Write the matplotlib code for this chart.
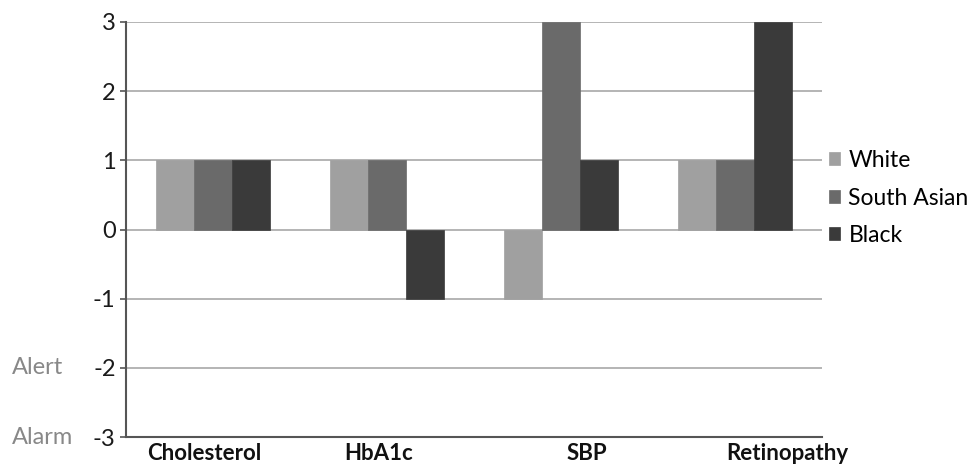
import numpy as np
import matplotlib
matplotlib.use("Agg")
import matplotlib.pyplot as plt

plt.rcParams["font.family"] = ["Lato", "DejaVu Sans"]

categories = ["Cholesterol", "HbA1c", "SBP", "Retinopathy"]
groups = ["White", "South Asian", "Black"]
white = [1, 1, -1, 1]
south_asian = [1, 1, 3, 1]
black = [1, -1, 1, 3]
yticks = [-3, -2, -1, 0, 1, 2, 3]
level_names = {-2: "Alert", -3: "Alarm"}
# category label x-positions (slightly shifted, as laid out on the chart)
label_shift = [-0.05, -0.05, 0.15, 0.3]

colors = ["#a0a0a0", "#6a6a6a", "#3a3a3a"]

fig = plt.figure(figsize=(9.72, 4.68), dpi=100)
ax = fig.add_axes([0.1296, 0.066, 0.716, 0.887])

x = np.arange(len(categories))
w = 0.22
for i, (vals, name, c) in enumerate(zip((white, south_asian, black), groups, colors)):
    ax.bar(x + (i - 1) * w, vals, width=w, color=c, edgecolor=c, linewidth=0.5,
           label=name, zorder=3)

ax.set_xlim(-0.5, len(categories) - 0.5)
ax.set_ylim(-3, 3)
ax.set_yticks(yticks)
ax.set_yticklabels([str(t) for t in yticks], fontsize=17, color="#1a1a1a")
ax.tick_params(axis="y", length=4.5, width=1.2, color="#555555", pad=3)
ax.set_xticks([])
ax.yaxis.grid(True, color="#a8a8a8", linewidth=1.2, zorder=0)

for s in ("top", "right"):
    ax.spines[s].set_visible(False)
for s in ("left", "bottom"):
    ax.spines[s].set_color("#555555")
    ax.spines[s].set_linewidth(1.5)

for xi, cat, dx in zip(x, categories, label_shift):
    ax.text(xi + dx, -3.08, cat, ha="center", va="top", fontsize=16,
            fontweight="bold", color="#111111")

# level names sit at the far left of the figure, level with their ticks
trans = matplotlib.transforms.blended_transform_factory(fig.transFigure, ax.transData)
for val, name in level_names.items():
    ax.text(12 / 972, val, name, ha="left", va="center", fontsize=17,
            color="#888888", transform=trans, clip_on=False)

ax.legend(loc="center left", bbox_to_anchor=(0.997, 0.576), frameon=False,
          fontsize=16.5, handlelength=0.5, handleheight=0.5, handletextpad=0.35,
          labelspacing=0.72, borderaxespad=0)

fig.savefig("out.png", dpi=100)
